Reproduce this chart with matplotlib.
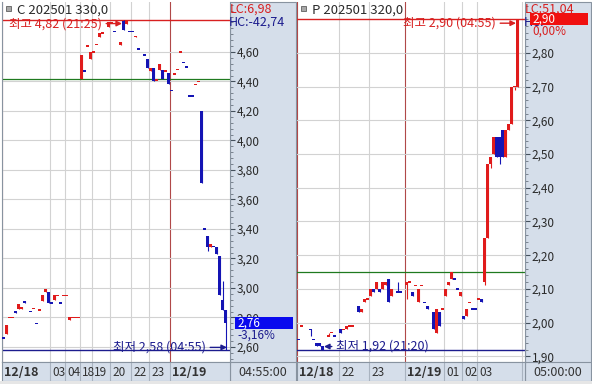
import matplotlib
matplotlib.use("Agg")
import matplotlib.pyplot as plt
import matplotlib.transforms as mtransforms
from matplotlib.patches import Rectangle
from matplotlib.ticker import FixedLocator, MultipleLocator, FuncFormatter
import numpy as np

plt.rcParams["font.family"] = ["Noto Sans CJK KR", "DejaVu Sans"]

# ---------------------------
# Data: C 202501 330.0 (call), bar slot / OHLC
# ---------------------------
call_title = "C 202501 330,0"
call_slot = [0, 1, 2, 3, 4, 5, 6, 7, 9, 10, 11, 12, 13, 14, 15, 16, 17, 18, 19, 20,
             21, 22, 23, 24, 25, 26, 27, 28, 29, 30, 31, 32, 33, 35, 36, 37, 39, 40, 41, 42,
             43, 44, 45, 47, 48, 49, 50, 51, 52, 53, 54, 55, 56, 57, 58, 59, 60, 61, 62, 63,
             64, 65, 66, 67, 68, 69, 70, 71, 72, 73, 74]
call_open = [2.66, 2.69, 2.80, 2.80, 2.84, 2.86, 2.86, 2.91, 2.84, 2.86,
             2.76, 2.85, 2.91, 2.97, 2.97, 2.90, 2.92, 2.95, 2.90, 2.95,
             2.95, 2.78, 2.80, 2.80, 2.80, 4.42, 4.47, 4.64, 4.55, 4.60,
             4.65, 4.70, 4.73, 4.77, 4.80, 4.74, 4.65, 4.81, 4.79, 4.74,
             4.74, 4.70, 4.62, 4.58, 4.55, 4.47, 4.49, 4.41, 4.48, 4.48,
             4.47, 4.46, 4.34, 4.45, 4.48, 4.60, 4.53, 4.50, 4.30, 4.30,
             4.38, 4.40, 4.20, 3.40, 3.35, 3.28, 3.28, 3.28, 3.22, 2.92,
             2.85]
call_high = [2.66, 2.75, 2.80, 2.80, 2.84, 2.89, 2.87, 2.91, 2.84, 2.86,
             2.76, 2.85, 2.95, 2.99, 2.97, 2.90, 2.95, 2.95, 2.90, 2.95,
             2.95, 2.80, 2.80, 2.80, 2.80, 4.58, 4.47, 4.64, 4.60, 4.60,
             4.65, 4.73, 4.73, 4.80, 4.80, 4.74, 4.67, 4.82, 4.81, 4.74,
             4.74, 4.71, 4.62, 4.58, 4.55, 4.49, 4.49, 4.41, 4.52, 4.48,
             4.47, 4.46, 4.34, 4.45, 4.48, 4.60, 4.53, 4.50, 4.30, 4.30,
             4.38, 4.40, 4.20, 3.40, 3.35, 3.30, 3.28, 3.28, 3.22, 3.05,
             2.85]
call_low = [2.66, 2.69, 2.80, 2.80, 2.83, 2.86, 2.86, 2.90, 2.84, 2.86,
            2.76, 2.85, 2.91, 2.97, 2.90, 2.90, 2.92, 2.95, 2.90, 2.95,
            2.95, 2.78, 2.80, 2.80, 2.80, 4.42, 4.47, 4.64, 4.55, 4.60,
            4.65, 4.70, 4.73, 4.77, 4.80, 4.74, 4.65, 4.75, 4.79, 4.74,
            4.74, 4.70, 4.62, 4.58, 4.49, 4.47, 4.40, 4.41, 4.48, 4.42,
            4.47, 4.38, 4.34, 4.45, 4.48, 4.60, 4.53, 4.50, 4.30, 4.30,
            4.38, 4.40, 3.71, 3.40, 3.25, 3.28, 3.28, 3.23, 2.95, 2.85,
            2.58]
call_close = [2.66, 2.75, 2.80, 2.80, 2.83, 2.89, 2.87, 2.90, 2.84, 2.86,
              2.76, 2.85, 2.95, 2.99, 2.90, 2.90, 2.95, 2.95, 2.90, 2.95,
              2.95, 2.80, 2.80, 2.80, 2.80, 4.58, 4.47, 4.64, 4.60, 4.60,
              4.65, 4.73, 4.73, 4.80, 4.80, 4.74, 4.67, 4.75, 4.81, 4.74,
              4.74, 4.71, 4.62, 4.58, 4.49, 4.49, 4.40, 4.41, 4.52, 4.42,
              4.47, 4.38, 4.34, 4.45, 4.48, 4.60, 4.53, 4.50, 4.30, 4.30,
              4.38, 4.40, 3.71, 3.40, 3.28, 3.30, 3.28, 3.23, 2.95, 2.85,
              2.76]
call_base = 4.42
call_hi_time, call_lo_time = "21:25", "04:55"
call_time_start = [0, 16, 21, 26, 30, 36, 43, 49, 56]
call_time_labels = ["12/18", "03", "04", "18", "19", "20", "22", "23", "12/19"]
call_cur_time = "04:55:00"
call_change = "-3,16%"
call_lc, call_hc = "6,98", "-42,74"

# ---------------------------
# Data: P 202501 320.0 (put)
# ---------------------------
put_title = "P 202501 320,0"
put_slot = [0, 1, 4, 5, 6, 7, 8, 10, 11, 12, 14, 15, 16, 17, 18, 20, 21, 22, 23, 24,
            25, 26, 27, 28, 29, 30, 31, 33, 34, 36, 37, 38, 39, 40, 41, 42, 43, 45, 46, 47,
            48, 49, 50, 51, 52, 53, 54, 55, 56, 57, 58, 59, 60, 61, 62, 63, 64, 65, 66, 67,
            68, 69, 70, 71, 72, 73]
put_open = [1.95, 1.99, 1.98, 1.95, 1.94, 1.94, 1.93, 1.96, 1.97, 1.96,
            1.98, 1.98, 1.98, 1.99, 1.99, 2.05, 2.03, 2.06, 2.07, 2.08,
            2.10, 2.10, 2.10, 2.10, 2.11, 2.13, 2.08, 2.09, 2.09, 2.11,
            2.12, 2.09, 2.11, 2.06, 2.11, 2.06, 2.05, 2.03, 1.97, 2.03,
            2.04, 2.08, 2.11, 2.13, 2.13, 2.10, 2.08, 2.02, 2.02, 2.06,
            2.04, 2.04, 2.07, 2.07, 2.12, 2.25, 2.47, 2.50, 2.55, 2.55,
            2.57, 2.49, 2.57, 2.59, 2.70, 2.70]
put_high = [1.95, 1.99, 1.98, 1.95, 1.94, 1.94, 1.93, 1.97, 1.97, 1.96,
            1.98, 1.98, 1.99, 1.99, 1.99, 2.05, 2.04, 2.07, 2.07, 2.10,
            2.10, 2.12, 2.10, 2.12, 2.12, 2.13, 2.10, 2.12, 2.09, 2.12,
            2.12, 2.09, 2.11, 2.10, 2.11, 2.06, 2.05, 2.03, 2.04, 2.03,
            2.04, 2.10, 2.12, 2.15, 2.13, 2.10, 2.09, 2.02, 2.04, 2.06,
            2.04, 2.04, 2.07, 2.07, 2.25, 2.47, 2.49, 2.55, 2.55, 2.55,
            2.57, 2.57, 2.59, 2.70, 2.70, 2.90]
put_low = [1.95, 1.99, 1.96, 1.95, 1.93, 1.93, 1.92, 1.96, 1.97, 1.96,
           1.97, 1.98, 1.98, 1.99, 1.99, 2.03, 2.03, 2.06, 2.07, 2.08,
           2.09, 2.10, 2.09, 2.10, 2.11, 2.06, 2.08, 2.09, 2.09, 2.07,
           2.12, 2.08, 2.11, 2.06, 2.11, 2.06, 2.04, 1.98, 1.97, 1.99,
           2.04, 2.08, 2.11, 2.13, 2.13, 2.10, 2.08, 2.01, 2.02, 2.06,
           2.04, 2.04, 2.07, 2.06, 2.11, 2.25, 2.46, 2.50, 2.49, 2.47,
           2.49, 2.49, 2.57, 2.59, 2.69, 2.70]
put_close = [1.95, 1.99, 1.98, 1.95, 1.93, 1.93, 1.92, 1.96, 1.97, 1.96,
             1.97, 1.98, 1.99, 1.99, 1.99, 2.03, 2.04, 2.07, 2.07, 2.10,
             2.09, 2.12, 2.09, 2.12, 2.12, 2.06, 2.10, 2.09, 2.09, 2.12,
             2.12, 2.08, 2.11, 2.10, 2.11, 2.06, 2.04, 1.98, 2.04, 1.99,
             2.04, 2.10, 2.12, 2.15, 2.13, 2.10, 2.09, 2.01, 2.04, 2.06,
             2.04, 2.04, 2.07, 2.06, 2.25, 2.47, 2.49, 2.55, 2.49, 2.49,
             2.49, 2.57, 2.59, 2.70, 2.70, 2.90]
put_base = 2.15
put_hi_time, put_lo_time = "04:55", "21:20"
put_time_start = [0, 14, 24, 36, 49, 55, 60, 75]
put_time_labels = ["12/18", "22", "23", "12/19", "01", "02", "03", "04"]
put_cur_time = "05:00:00"
put_change = "0,00%"
put_lc, put_hc = "51,04", ""

# ---------------------------
# Style
# ---------------------------
RED = "#e01b1b"
BLUE = "#1414b4"
NAVY = "#1c1c8e"
LINE_RED = "#d82020"
GREEN = "#1f7a1f"
DATE_RED = "#b04848"
GRID = "#d2d2d2"
STRIP = "#d5deea"
EDGE = "#8893a0"
TXT = "#2a2a2a"

W, H = 592, 384
fig = plt.figure(figsize=(W / 100, H / 100), dpi=100)
fig.patch.set_facecolor("white")


def px_axes(x0, y0, x1, y1):
    return fig.add_axes([x0 / W, 1 - y1 / H, (x1 - x0) / W, (y1 - y0) / H])


def px_rect(x0, y0, x1, y1, **kw):
    fig.add_artist(Rectangle((x0 / W, 1 - y1 / H), (x1 - x0) / W, (y1 - y0) / H,
                             transform=fig.transFigure, **kw))


def px_text(x, y, s, **kw):
    fig.text(x / W, 1 - y / H, s, **kw)


def comma(v):
    return f"{v:.2f}".replace(".", ",")


def draw_panel(x0, title, slots, o, h, l, c, ylim, major, minor, base, hi_time, lo_time,
               time_start, time_labels, cur_time, change, lc, hc, box_color, change_color):
    ax = px_axes(x0, 2, x0 + 228, 362)
    ax.set_xlim(-0.5, 75.5)
    ax.set_ylim(*ylim)
    ppu = 360 / (ylim[1] - ylim[0])

    # price strip + time strip backgrounds
    px_rect(x0 + 228, 2, min(x0 + 294, W), 381, facecolor=STRIP, edgecolor=EDGE, lw=0.8, zorder=-1)
    px_rect(x0 + 228, 362, min(x0 + 294, W), 381, facecolor=STRIP, edgecolor=EDGE, lw=0.8, zorder=-1)
    px_text(x0 + 260.5, 372, cur_time, ha="center", va="center", fontsize=9, color="#333333")

    for sp in ax.spines.values():
        sp.set_color(EDGE)
        sp.set_linewidth(0.8)
    ax.spines["top"].set_visible(False)
    ax.set_xticks([])
    ax.yaxis.tick_right()
    ax.yaxis.set_major_locator(FixedLocator(major))
    ax.yaxis.set_minor_locator(MultipleLocator(minor))
    ax.yaxis.set_major_formatter(FuncFormatter(lambda v, p: comma(v)))
    ax.tick_params(axis="y", which="major", length=3.5, width=0.8, color="#44505c",
                   labelcolor=TXT, labelsize=8.5, pad=1.5)
    ax.tick_params(axis="y", which="minor", length=2, width=0.6, color="#6a7480")
    ax.grid(axis="y", which="major", color=GRID, lw=0.8)
    ax.set_axisbelow(True)

    # hour / date gridlines
    for s, lab in zip(time_start, time_labels):
        ax.axvline(s - 0.5, color=DATE_RED if "/" in lab else GRID, lw=0.8, zorder=0.5)

    hi = max(h)
    lo = min(l)
    hi_i = h.index(hi)
    lo_i = l.index(lo)
    ax.axhline(base, color=GREEN, lw=0.9, zorder=1)
    ax.axhline(hi, color=LINE_RED, lw=1, zorder=1)
    ax.axhline(lo, color=NAVY, lw=1, zorder=1)

    # candles
    min_h = 1.6 / ppu
    prev_c, prev_col = None, BLUE
    for s, op, hv, lv, cl in zip(slots, o, h, l, c):
        if cl > op:
            col = RED
        elif cl < op:
            col = BLUE
        elif prev_c is None:
            col = BLUE
        elif cl > prev_c:
            col = RED
        elif cl < prev_c:
            col = BLUE
        else:
            col = prev_col
        ax.vlines(s, lv, hv, color=col, lw=0.8, zorder=2)
        body = abs(cl - op)
        if body < min_h:
            ax.bar(s, min_h, bottom=(op + cl) / 2 - min_h / 2, width=1.0, color=col, lw=0, zorder=3)
        else:
            ax.bar(s, body, bottom=min(op, cl), width=0.9, color=col, lw=0, zorder=3)
        prev_c, prev_col = cl, col

    # high / low markers
    ax.annotate(f"최고 {comma(hi)} ({hi_time})", xy=(slots[hi_i] - 0.5, hi - 4 / ppu),
                xytext=(-20, 0), textcoords="offset pixels", ha="right", va="center",
                color=LINE_RED, fontsize=9, zorder=4,
                arrowprops=dict(arrowstyle="-|>", color=LINE_RED, lw=1, mutation_scale=8,
                                shrinkA=1, shrinkB=0))
    if slots[lo_i] > 37:
        ax.annotate(f"최저 {comma(lo)} ({lo_time})", xy=(slots[lo_i] + 0.5, lo + 2.5 / ppu),
                    xytext=(-21, 0), textcoords="offset pixels", ha="right", va="center",
                    color=NAVY, fontsize=9, zorder=4,
                    arrowprops=dict(arrowstyle="-|>", color=NAVY, lw=1, mutation_scale=8,
                                    shrinkA=1, shrinkB=0))
    else:
        ax.annotate(f"최저 {comma(lo)} ({lo_time})", xy=(slots[lo_i] + 0.5, lo + 3 / ppu),
                    xytext=(12, 0), textcoords="offset pixels", ha="left", va="center",
                    color=NAVY, fontsize=9, zorder=4,
                    arrowprops=dict(arrowstyle="-|>", color=NAVY, lw=1, mutation_scale=8,
                                    shrinkA=1, shrinkB=0))

    # LC / HC labels in the price strip (drawn under the price box)
    ax.text((230 - 2) / 228, 1 - 7 / 360, f"LC:{lc}", transform=ax.transAxes,
            color=LINE_RED, fontsize=9, va="center", ha="left", clip_on=False, zorder=4)
    ax.text((229 - 2) / 228, 1 - 20 / 360, f"HC:{hc}", transform=ax.transAxes,
            color=NAVY, fontsize=9, va="center", ha="left", clip_on=False, zorder=4)

    # current price box
    trans = mtransforms.blended_transform_factory(ax.transAxes, ax.transData)
    half = 6 / ppu
    ax.add_patch(Rectangle((1.022, c[-1] - half), 0.254, 2 * half, transform=trans,
                           facecolor=box_color, edgecolor="none", clip_on=False, zorder=5))
    ax.text(1.032, c[-1], comma(c[-1]), transform=trans, color="white", va="center",
            ha="left", fontsize=8.5, clip_on=False, zorder=6)
    ax.text(1.032, c[-1] - 12 / ppu, change, transform=trans, color=change_color,
            va="center", ha="left", fontsize=8.5, clip_on=False, zorder=6)

    # time axis
    axb = px_axes(x0, 362, x0 + 228, 381)
    axb.set_xlim(-0.5, 75.5)
    axb.set_ylim(0, 1)
    axb.set_facecolor(STRIP)
    axb.set_xticks([])
    axb.set_yticks([])
    for sp in axb.spines.values():
        sp.set_color(EDGE)
        sp.set_linewidth(0.8)
    for s, lab in zip(time_start, time_labels):
        if s > 0:
            axb.axvline(s - 0.5, color="#a9b3c0", lw=0.8)
        if s > 72:
            continue  # no room left for the label before the price strip
        bold = "/" in lab
        axb.text(s - 0.5 + 0.7, 0.45, lab, fontsize=9 if bold else 8.5,
                 fontweight="bold" if bold else "normal", va="center", ha="left",
                 color="#333333", clip_on=True)

    # title
    px_rect(x0 + 4, 6, x0 + 9, 11, facecolor="#a8a8a8", edgecolor="#606060", lw=0.6)
    px_text(x0 + 15, 10, title, fontsize=9.5, va="center", color=TXT)
    return ax


ax_call = draw_panel(2, call_title, call_slot, call_open, call_high, call_low, call_close,
                     (2.498, 4.939), np.arange(2.6, 4.61, 0.2), 0.04, call_base,
                     call_hi_time, call_lo_time, call_time_start, call_time_labels,
                     call_cur_time, call_change, call_lc, call_hc, "#0a0aee", NAVY)
ax_put = draw_panel(297, put_title, put_slot, put_open, put_high, put_low, put_close,
                    (1.883, 2.951), np.arange(1.9, 2.81, 0.1), 0.02, put_base,
                    put_hi_time, put_lo_time, put_time_start, put_time_labels,
                    put_cur_time, put_change, put_lc, put_hc, "#f01010", LINE_RED)
ax_put.spines["left"].set_visible(False)

px_rect(0, 381, W, H, facecolor="#e6e6e6", edgecolor="none")

fig.savefig("out.png", dpi=100)
